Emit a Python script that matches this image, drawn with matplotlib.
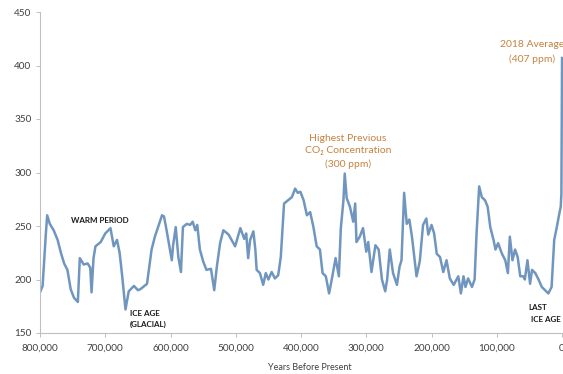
import numpy as np
from matplotlib import pyplot as plt

# CO2 record, years before present (thousands) and ppm
years_k = [800, 796, 791, 789, 785, 779, 773, 768, 763, 758, 753, 748, 742, 739,
           733, 727, 723, 721, 718, 715, 707, 700, 692, 687, 682, 678, 674, 669,
           664, 656, 650, 646, 636, 629, 624, 613, 610, 606, 598, 596, 592, 588,
           584, 581, 575, 570, 566, 562, 559, 555, 550, 545, 538, 533, 529, 524,
           519, 511, 501, 493, 487, 484, 481, 478, 473, 470, 468, 463, 458, 454,
           450, 445, 440, 435, 431, 426, 420, 414, 409, 405, 401, 396, 391, 386,
           381, 376, 371, 367, 362, 357, 352, 347, 342, 339, 335, 333, 330, 325,
           320, 317, 315, 310, 305, 300, 297, 292, 286, 281, 276, 271, 268, 264,
           259, 253, 249, 246, 242, 238, 234, 230, 227, 223, 218, 213, 208, 205,
           200, 196, 192, 187, 182, 177, 172, 166, 159, 155, 151, 148, 144, 138,
           134, 131, 127, 123, 118, 114, 110, 105, 102, 98, 92, 87, 83, 80, 76,
           72, 68, 64, 59, 57, 53, 49, 46, 41, 36, 31, 26, 21, 16, 12, 8, 5, 2,
           1, 0]
co2_ppm = [188, 194, 243, 260, 252, 246, 237, 225, 215, 209, 191, 183, 179, 220,
           214, 215, 211, 188, 220, 231, 235, 243, 248, 231, 237, 225, 203, 172,
           189, 194, 190, 191, 196, 228, 240, 260, 259, 246, 218, 232, 249, 221,
           207, 249, 252, 251, 254, 246, 251, 228, 217, 209, 210, 190, 212, 234,
           246, 242, 231, 248, 238, 243, 220, 237, 245, 228, 209, 206, 195, 206,
           200, 207, 201, 204, 221, 271, 274, 277, 285, 281, 282, 274, 260, 263,
           249, 231, 228, 206, 203, 187, 203, 220, 203, 248, 274, 299, 276, 268,
           254, 271, 235, 240, 248, 226, 235, 207, 232, 228, 200, 189, 200, 228,
           206, 195, 212, 218, 281, 252, 256, 240, 224, 203, 217, 251, 257, 242,
           251, 243, 224, 221, 207, 218, 201, 195, 203, 187, 203, 193, 201, 193,
           200, 243, 287, 277, 274, 268, 249, 237, 228, 234, 224, 218, 206, 240,
           218, 228, 221, 203, 203, 200, 218, 196, 209, 206, 200, 193, 190, 187,
           193, 237, 249, 259, 268, 280, 407]

xtick_values = [800000, 700000, 600000, 500000, 400000, 300000, 200000, 100000, 0]
xtick_labels = ["800,000", "700,000", "600,000", "500,000", "400,000",
                "300,000", "200,000", "100,000", "0"]
ytick_values = [150, 200, 250, 300, 350, 400, 450]

LINE = "#7096c0"
ORANGE = "#c5823f"
GREY = "#404040"

plt.rcParams['font.family'] = ['Lato', 'DejaVu Sans']

fig = plt.figure(figsize=(5.63, 3.74), dpi=100)
ax = fig.add_axes([40/563, 41/374, 524/563, 321/374])

years = np.array(years_k) * 1000
ax.plot(years, co2_ppm, color=LINE, lw=1.8, solid_joinstyle='round')

ax.set_xlim(800000, -3000)
ax.set_ylim(150, 450)
ax.set_xticks(xtick_values)
ax.set_xticklabels(xtick_labels)
ax.set_yticks(ytick_values)

for s in ["top", "right"]:
    ax.spines[s].set_visible(False)
for s in ["left", "bottom"]:
    ax.spines[s].set_color("#bfbfbf")
    ax.spines[s].set_linewidth(0.8)
ax.tick_params(direction='out', length=3, width=0.7, color="#bfbfbf",
               labelsize=7.2, labelcolor=GREY)
ax.tick_params(axis='x', pad=5)
ax.tick_params(axis='y', pad=3)

# annotations
ax.text(708000, 255.6, "WARM PERIOD", fontsize=5.8, color="#1a1a1a",
        ha='center', va='center', fontweight='bold')
ax.text(662000, 163, "ICE AGE\n(GLACIAL)", fontsize=5.8, color="#1a1a1a",
        ha='left', va='center', linespacing=1.5, fontweight='bold')
ax.text(328000, 320, "Highest Previous\nCO\u2082 Concentration\n(300 ppm)",
        fontsize=7.5, color=ORANGE, ha='center', va='center', linespacing=1.5)
ax.text(95000, 419.5, "2018 Average", fontsize=7.5, color=ORANGE,
        ha='left', va='center', clip_on=False)
ax.text(46500, 405.5, "(407 ppm)", fontsize=7.5, color=ORANGE,
        ha='center', va='center', clip_on=False)
ax.text(51000, 173.4, "LAST", fontsize=5.8, color="#1a1a1a",
        ha='left', va='center', fontweight='bold', clip_on=False)
ax.text(47000, 162.2, "ICE AGE", fontsize=5.8, color="#1a1a1a",
        ha='left', va='center', fontweight='bold', clip_on=False)

fig.text(310/563, 1 - 367/374, "Years Before Present", fontsize=6.5,
         color=GREY, ha='center', va='center')

plt.savefig("out.png", dpi=100)
